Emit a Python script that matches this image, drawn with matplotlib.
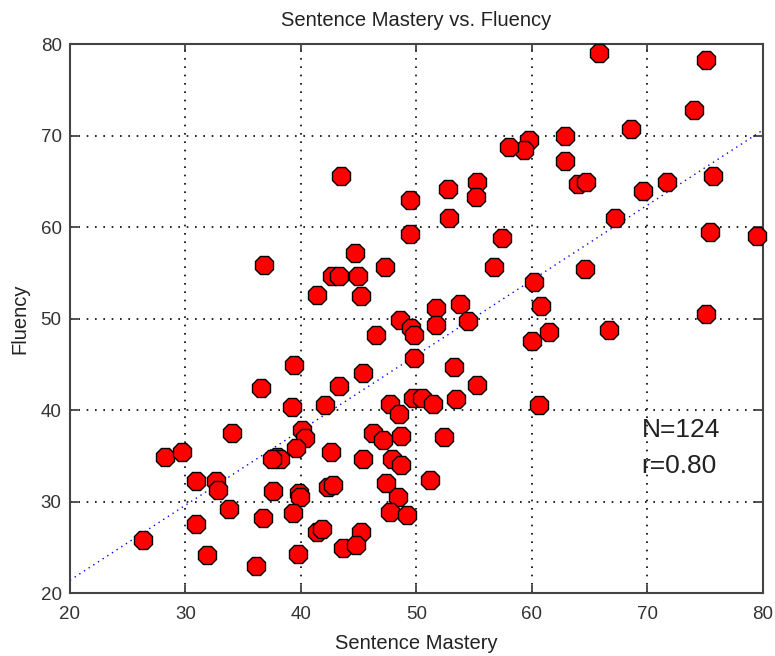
import matplotlib
matplotlib.use("Agg")
import matplotlib.pyplot as plt

plt.rcParams['font.family'] = ['Liberation Sans', 'DejaVu Sans']

mastery = [65.8, 75.05, 74.07, 68.54, 62.86, 59.7, 59.28, 58.04, 62.9, 75.7, 71.7, 69.6, 64.0, 64.7,
           55.26, 55.15, 52.7, 49.47, 52.8, 67.16, 75.4, 79.5, 49.4, 57.4, 56.7, 64.6, 60.2, 60.8,
           75.05, 51.7, 53.8, 51.67, 54.5, 48.6, 49.5, 49.75,
           43.44, 36.8, 44.65, 47.3, 42.7, 43.3, 44.96, 41.37, 45.16, 46.5,
           49.8, 39.43, 45.4, 43.3, 36.5, 47.7, 48.5, 39.2, 42.07, 34.0, 40.05, 40.35, 39.6,
           42.6, 46.2, 47.1, 48.7, 37.9, 38.2, 37.5, 28.2, 29.67, 45.4, 47.9, 48.65, 30.9, 32.65,
           32.8, 37.6, 39.8, 39.9, 42.35, 42.8, 47.4, 48.4, 33.75, 30.9, 36.7, 39.3, 47.7, 49.2,
           41.35, 41.8, 45.2, 26.3, 31.9, 39.7, 43.6, 44.8, 36.1,
           66.7, 60.0, 61.5, 53.25, 55.26, 49.7, 50.5, 51.45, 53.4, 60.6, 52.4, 51.15]
fluency = [79.05, 78.25, 72.8, 70.7, 69.95, 69.5, 68.4, 68.7, 67.2, 65.6, 64.95, 63.97, 64.7, 64.9,
           64.9, 63.3, 64.2, 62.95, 61.0, 61.0, 59.5, 59.05, 59.2, 58.8, 55.6, 55.4, 53.95, 51.4,
           50.5, 51.1, 51.6, 49.3, 49.7, 49.8, 49.0, 48.2,
           65.6, 55.9, 57.2, 55.6, 54.6, 54.6, 54.6, 52.6, 52.5, 48.2,
           45.7, 44.9, 44.0, 42.6, 42.4, 40.65, 39.6, 40.35, 40.5, 37.5, 37.8, 36.9, 35.8,
           35.4, 37.5, 36.7, 37.2, 34.9, 34.6, 34.7, 34.9, 35.4, 34.7, 34.7, 34.0, 32.25, 32.25,
           31.25, 31.1, 30.9, 30.5, 31.55, 31.8, 32.0, 30.5, 29.15, 27.5, 28.2, 28.7, 28.9, 28.5,
           26.7, 27.0, 26.7, 25.8, 24.15, 24.3, 24.9, 25.2, 22.95,
           48.75, 47.5, 48.5, 44.7, 42.7, 41.35, 41.3, 40.65, 41.2, 40.5, 37.0, 32.4]

fit_x = [20, 80]
fit_y = [21.4, 70.6]
ticks = [20, 30, 40, 50, 60, 70, 80]

fig = plt.figure(figsize=(7.75, 6.56), dpi=100)
ax = fig.add_axes([0.0903, 0.0960, 0.8942, 0.8369])

ax.plot(fit_x, fit_y, linestyle=(0, (1, 3)), color='blue', lw=1.0, zorder=2)
ax.plot(mastery, fluency, linestyle='none', marker='8', markersize=14.5,
        markerfacecolor='red', markeredgecolor='black', markeredgewidth=1.0,
        clip_on=False, zorder=3)

ax.set_xlim(20, 80)
ax.set_ylim(20, 80)
ax.set_xticks(ticks)
ax.set_yticks(ticks)
ax.grid(True, linestyle=(0, (1, 4)), color='black', lw=1.2)
ax.set_axisbelow(True)
ax.tick_params(direction='in', length=6, width=1.2, top=True, right=True, labelsize=13.5,
               colors='#333333')
ax.tick_params(axis='x', pad=9)
ax.tick_params(axis='y', pad=6)
for s in ax.spines.values():
    s.set_linewidth(1.5)
    s.set_color('#444444')

ax.set_title('Sentence Mastery vs. Fluency', fontsize=14.5, pad=13, color='#222222')
ax.set_xlabel('Sentence Mastery', fontsize=14.5, labelpad=8, color='#222222')
ax.set_ylabel('Fluency', fontsize=14.5, labelpad=8, color='#222222')

ax.text(69.5, 37.8, 'N=124', fontsize=19, va='center', ha='left', color='#222222')
ax.text(69.5, 33.9, 'r=0.80', fontsize=19, va='center', ha='left', color='#222222')

fig.savefig('out.png', dpi=100)
